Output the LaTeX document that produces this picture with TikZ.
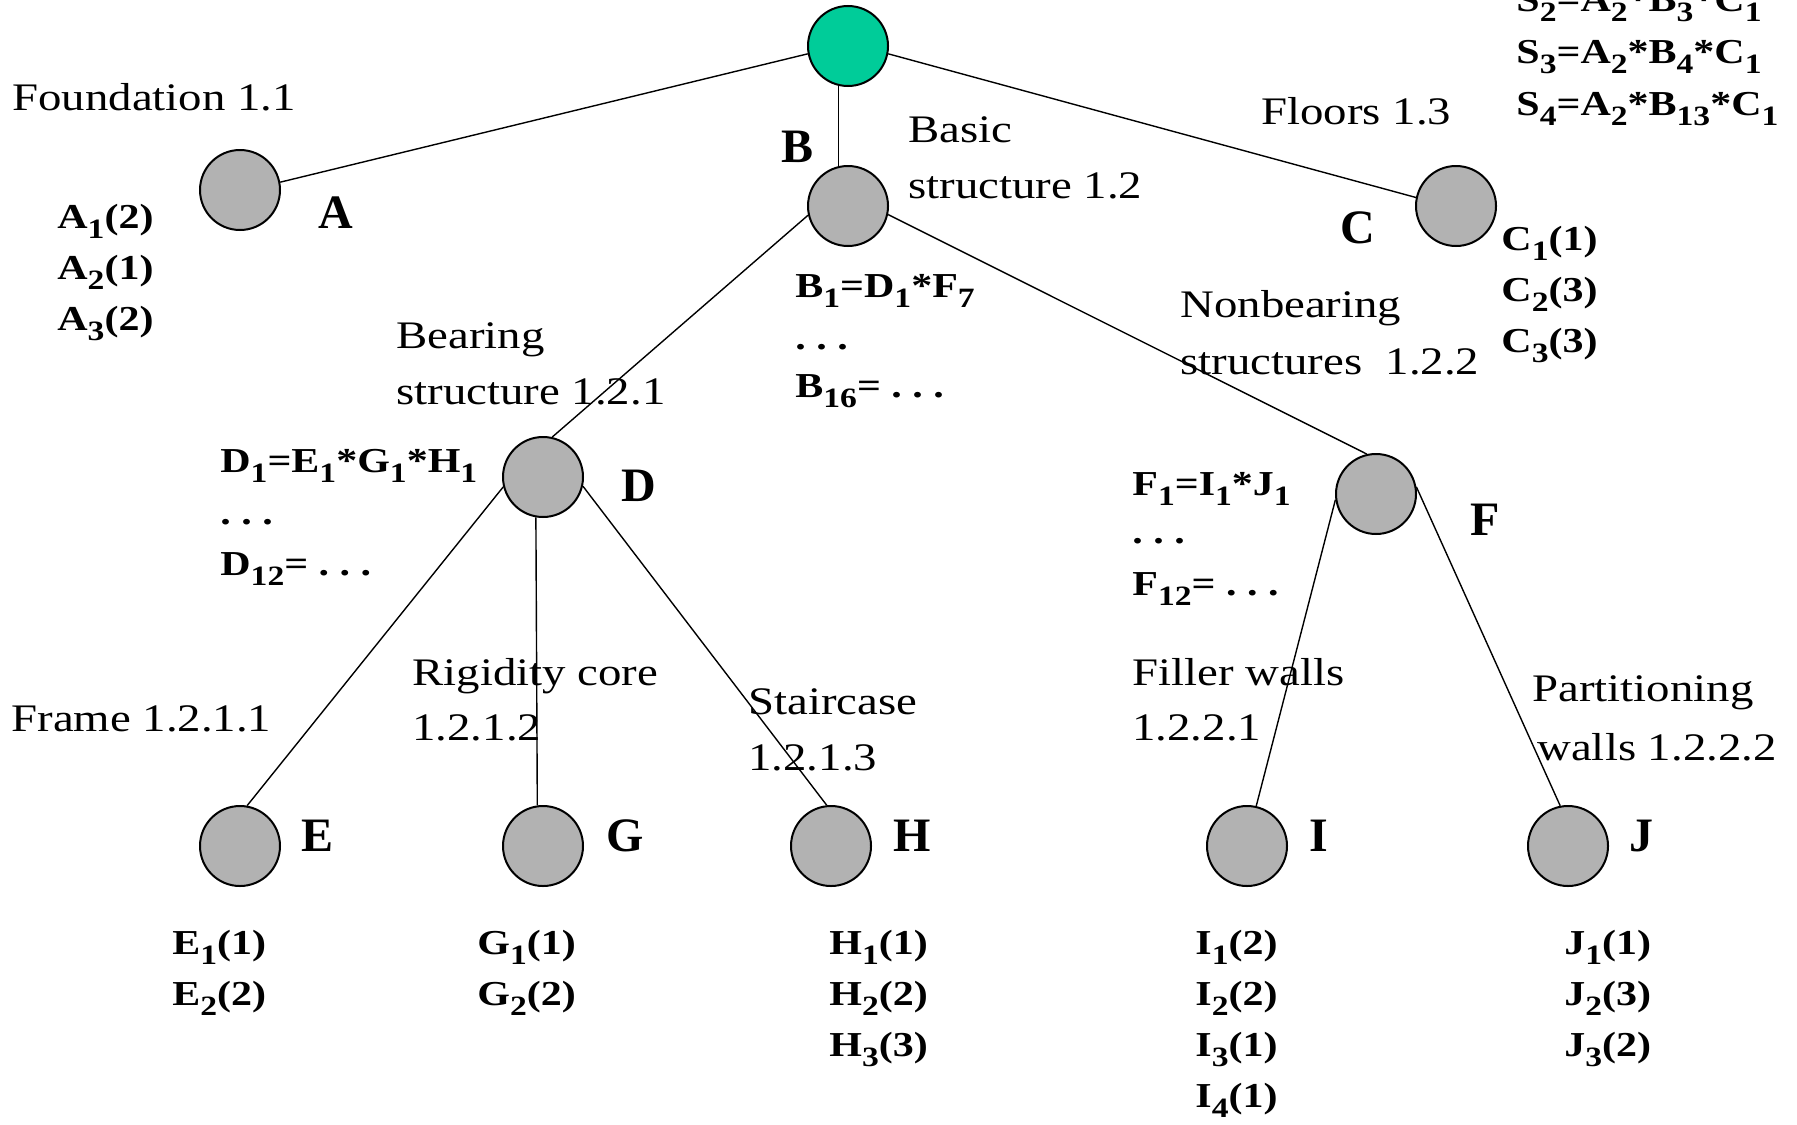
\documentclass[tikz,border=0pt]{standalone}
\usepackage{fontspec}
\setmainfont[FakeStretch=1.2]{Liberation Serif}
\newfontfamily\tagfont{Liberation Serif}
\definecolor{rootgreen}{RGB}{0,204,153}
\definecolor{nodegray}{RGB}{178,178,178}
% lowered, smaller index digits
\newcommand\lo[1]{\raisebox{-0.3em}{\fontsize{14}{14}\selectfont #1}}
\newcommand\etcdots{.\ .\ .}
\begin{document}
\begin{tikzpicture}[x=0.5pt,y=0.5pt,
  elem/.style={circle,draw=black,line width=1pt,fill=nodegray,minimum size=40pt,inner sep=0pt},
  lbl/.style={anchor=base west,inner sep=0pt,font=\fontsize{19.5}{23}\selectfont},
  eq/.style={anchor=base west,inner sep=0pt,font=\fontsize{17.5}{21}\selectfont\bfseries},
  tag/.style={anchor=base west,inner sep=0pt,font=\tagfont\fontsize{24}{28}\selectfont\bfseries},
  edge/.style={line width=0.7pt}]
\useasboundingbox (0,0) rectangle (1797,-1124);

% tree nodes
\node[elem,fill=rootgreen] (root) at (848,-46) {};
\node[elem] (A) at (240,-190) {};
\node[elem] (B) at (848,-206) {};
\node[elem] (C) at (1456,-206) {};
\node[elem] (D) at (543,-477) {};
\node[elem] (F) at (1376,-494) {};
\node[elem] (E) at (240,-846) {};
\node[elem] (G) at (543,-846) {};
\node[elem] (H) at (831,-846) {};
\node[elem] (I) at (1247,-846) {};
\node[elem] (J) at (1568,-846) {};

% connectors
\draw[edge] (root.191) -- (A.11);
\draw[edge] (root.257) -- (B.103);
\draw[edge] (root.349) -- (C.168);
\draw[edge] (B.193) -- (D.77);
\draw[edge] (B.-12) -- (F.103);
\draw[edge] (D.194) -- (E.80);
\draw[edge] (D.260) -- (G.98);
\draw[edge] (D.-13) -- (H.96);
\draw[edge] (F.188) -- (I.77);
\draw[edge] (F.10) -- (J.101);

% node letters
\node[tag] (tA) at (318,-228) {A};
\node[tag] (tB) at (781,-162) {B};
\node[tag] (tC) at (1340,-243) {C};
\node[tag] (tD) at (621,-501) {D};
\node[tag] (tF) at (1470,-535) {F};
\node[tag] (tE) at (301,-851) {E};
\node[tag] (tG) at (606,-851) {G};
\node[tag] (tH) at (893,-851) {H};
\node[tag] (tI) at (1309,-851) {I};
\node[tag] (tJ) at (1629,-851) {J};

% component names
\node[lbl] (nA) at (12,-110) {Foundation 1.1};
\node[lbl] (nB1) at (908,-142) {Basic};
\node[lbl] (nB2) at (908,-198) {structure 1.2};
\node[lbl] (nC) at (1261,-124) {Floors 1.3};
\node[lbl] (nD1) at (396,-348) {Bearing};
\node[lbl] (nD2) at (396,-404) {structure 1.2.1};
\node[lbl] (nF1) at (1180,-317) {Nonbearing};
\node[lbl] (nF2) at (1180,-374) {structures\ \ 1.2.2};
\node[lbl] (nE) at (11,-731) {Frame 1.2.1.1};
\node[lbl] (nG1) at (412,-685) {Rigidity core};
\node[lbl] (nG2) at (412,-740) {1.2.1.2};
\node[lbl] (nH1) at (748,-714) {Staircase};
\node[lbl] (nH2) at (748,-770) {1.2.1.3};
\node[lbl] (nI1) at (1132,-685) {Filler walls};
\node[lbl] (nI2) at (1132,-740) {1.2.2.1};
\node[lbl] (nJ1) at (1532,-701) {Partitioning};
\node[lbl] (nJ2) at (1537,-760) {walls 1.2.2.2};

% system variants
\node[eq] (s2) at (1516,-11) {S\lo{2}=A\lo{2}*B\lo{3}*C\lo{1}};
\node[eq] (s3) at (1516,-63) {S\lo{3}=A\lo{2}*B\lo{4}*C\lo{1}};
\node[eq] (s4) at (1516,-115) {S\lo{4}=A\lo{2}*B\lo{13}*C\lo{1}};

% variants of A and C
\node[eq] (a1) at (57,-228) {A\lo{1}(2)};
\node[eq] (a2) at (57,-279) {A\lo{2}(1)};
\node[eq] (a3) at (57,-330) {A\lo{3}(2)};
\node[eq] (c1) at (1501,-250) {C\lo{1}(1)};
\node[eq] (c2) at (1501,-301) {C\lo{2}(3)};
\node[eq] (c3) at (1501,-352) {C\lo{3}(3)};

% combinations of B, D and F
\node[eq] (b1) at (795,-297) {B\lo{1}=D\lo{1}*F\lo{7}};
\node[eq] (b2) at (795,-349) {\etcdots};
\node[eq] (b3) at (795,-397) {B\lo{16}= \etcdots};
\node[eq] (d1) at (220,-472) {D\lo{1}=E\lo{1}*G\lo{1}*H\lo{1}};
\node[eq] (d2) at (220,-524) {\etcdots};
\node[eq] (d3) at (220,-575) {D\lo{12}= \etcdots};
\node[eq] (f1) at (1132,-495) {F\lo{1}=I\lo{1}*J\lo{1}};
\node[eq] (f2) at (1132,-543) {\etcdots};
\node[eq] (f3) at (1132,-595) {F\lo{12}= \etcdots};

% variants of the leaves
\node[eq] (e1) at (172,-954) {E\lo{1}(1)};
\node[eq] (e2) at (172,-1005) {E\lo{2}(2)};
\node[eq] (g1) at (477,-954) {G\lo{1}(1)};
\node[eq] (g2) at (477,-1005) {G\lo{2}(2)};
\node[eq] (h1) at (829,-954) {H\lo{1}(1)};
\node[eq] (h2) at (829,-1005) {H\lo{2}(2)};
\node[eq] (h3) at (829,-1056) {H\lo{3}(3)};
\node[eq] (i1) at (1195,-954) {I\lo{1}(2)};
\node[eq] (i2) at (1195,-1005) {I\lo{2}(2)};
\node[eq] (i3) at (1195,-1056) {I\lo{3}(1)};
\node[eq] (i4) at (1195,-1107) {I\lo{4}(1)};
\node[eq] (j1) at (1564,-954) {J\lo{1}(1)};
\node[eq] (j2) at (1564,-1005) {J\lo{2}(3)};
\node[eq] (j3) at (1564,-1056) {J\lo{3}(2)};
\end{tikzpicture}
\end{document}
